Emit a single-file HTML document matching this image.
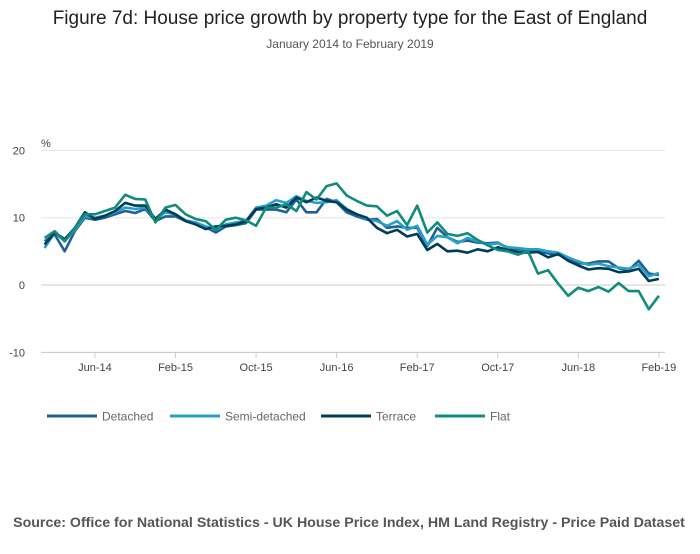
<!DOCTYPE html>
<html><head><meta charset="utf-8"><style>
body{margin:0;background:#fff;font-family:"Liberation Sans",sans-serif;}
svg text{font-family:"Liberation Sans",sans-serif;}
</style></head><body>
<svg width="700" height="549">
<text x="350" y="24" text-anchor="middle" font-size="19" fill="#222">Figure 7d: House price growth by property type for the East of England</text>
<text x="350" y="48" text-anchor="middle" font-size="12" fill="#555">January 2014 to February 2019</text>
<text x="41" y="147" font-size="11" fill="#444">%</text>
<g id="grid"></g><g id="xaxis"></g><g id="series"></g><g id="legend"></g>
<text x="349" y="527" text-anchor="middle" font-size="14.2" font-weight="bold" fill="#555">Source: Office for National Statistics - UK House Price Index, HM Land Registry - Price Paid Dataset</text>
</svg>
<script>
const yTicks=[20,10,0,-10];
const xTickLabels=["Jun-14","Feb-15","Oct-15","Jun-16","Feb-17","Oct-17","Jun-18","Feb-19"];
const xTickIndex=[5,13,21,29,37,45,53,61];
const seriesNames=["Detached","Semi-detached","Terrace","Flat"];
const detached=[6.5,7.5,5.0,8.0,10.0,9.7,10.0,10.5,11.0,10.7,11.3,9.5,10.2,10.2,9.5,9.2,8.6,7.8,8.7,8.9,9.2,11.2,11.2,11.2,10.8,12.7,10.8,10.8,12.8,12.3,10.8,10.2,9.7,9.8,8.5,8.7,8.5,8.5,5.8,8.5,7.1,6.4,6.6,6.3,6.2,6.3,5.5,5.3,5.2,5.0,4.7,4.5,4.0,3.2,3.2,3.5,3.5,2.5,2.2,3.6,1.7,1.5];
const semi=[5.5,7.8,6.5,8.2,10.2,10.0,10.3,10.8,11.5,11.3,11.5,9.8,10.8,10.5,9.6,9.3,8.7,8.2,9.0,9.3,9.5,11.5,11.8,12.6,12.2,13.2,12.5,12.2,12.3,12.6,11.3,10.5,9.8,9.5,8.8,9.5,8.2,8.8,6.0,7.3,7.1,6.2,7.0,6.5,6.0,6.2,5.6,5.5,5.3,5.3,5.0,4.8,4.1,3.5,3.0,3.2,2.8,2.6,2.4,3.0,1.3,1.8];
const terrace=[6.0,7.8,6.8,8.5,10.8,9.8,10.3,11.0,12.2,11.8,11.8,9.8,11.2,10.5,9.5,9.0,8.3,8.7,8.8,9.0,9.5,11.3,11.5,12.0,11.5,13.0,12.3,13.0,12.5,12.3,11.2,10.5,10.0,8.5,7.7,8.2,7.2,7.6,5.2,6.1,5.0,5.1,4.8,5.3,5.0,5.6,5.2,4.9,4.8,4.9,4.1,4.6,3.6,2.9,2.3,2.5,2.4,1.9,2.0,2.4,0.6,0.9];
const flat=[7.0,8.0,6.5,8.5,10.5,10.5,11.0,11.5,13.4,12.8,12.7,9.3,11.5,11.9,10.5,9.8,9.5,8.2,9.7,10.0,9.6,8.8,11.5,11.5,12.0,11.0,13.8,12.7,14.7,15.1,13.3,12.5,11.8,11.7,10.3,11.0,8.9,11.8,7.8,9.3,7.6,7.3,7.7,6.7,5.9,5.2,5.0,4.5,5.0,1.7,2.2,0.2,-1.6,-0.4,-0.9,-0.3,-1.0,0.3,-0.9,-0.9,-3.6,-1.6];
const colors=["#206095","#27a0cc","#003c57","#118c7b"];
const NS="http://www.w3.org/2000/svg";
const x0=44.6,dx=10.07;
function xs(i){return x0+dx*i;}
function ys(v){return 285-v*6.73;}
function mk(t,a,p){const e=document.createElementNS(NS,t);for(const k in a)e.setAttribute(k,a[k]);p.appendChild(e);return e;}
const grid=document.getElementById('grid');
yTicks.forEach(v=>{
 const l=mk('line',{x1:41,x2:665,y1:ys(v),y2:ys(v),stroke:v===0?'#ccc':'#e6e6e6','stroke-width':1},grid);
 
 
 const t=mk('text',{x:25,y:ys(v)+4,'text-anchor':'end','font-size':11,fill:'#444'},grid);
 t.textContent=v;
 
 
});
const xa=document.getElementById('xaxis');
const axl=mk('line',{x1:41,x2:665,y1:352.5,y2:352.5,stroke:'#ccc'},xa);


xTickLabels.forEach((lab,k)=>{
 const x=xs(xTickIndex[k]);
 const tk=mk('line',{x1:x,x2:x,y1:352,y2:358,stroke:'#ccc'},xa);
 
 
 const t=mk('text',{x:x,y:371,'text-anchor':'middle','font-size':11,fill:'#444'},xa);
 t.textContent=lab;
 
 
});
const sg=document.getElementById('series');
[detached,semi,terrace,flat].forEach((arr,s)=>{
 const d=arr.map((v,i)=>(i?'L':'M')+xs(i).toFixed(1)+','+ys(v).toFixed(1)).join('');
 const p=mk('path',{d:d,fill:'none',stroke:colors[s],'stroke-width':2.6,'stroke-linejoin':'round'},sg);
 
 
});
const lg=document.getElementById('legend');
const lx=[47,170,321,435];
seriesNames.forEach((n,s)=>{
 const l=mk('line',{x1:lx[s],x2:lx[s]+50,y1:416,y2:416,stroke:colors[s],'stroke-width':3},lg);
 
 
 const t=mk('text',{x:lx[s]+55,y:420.5,'font-size':12,fill:'#666'},lg);
 t.textContent=n;
 
 
});
</script>
</body></html>
